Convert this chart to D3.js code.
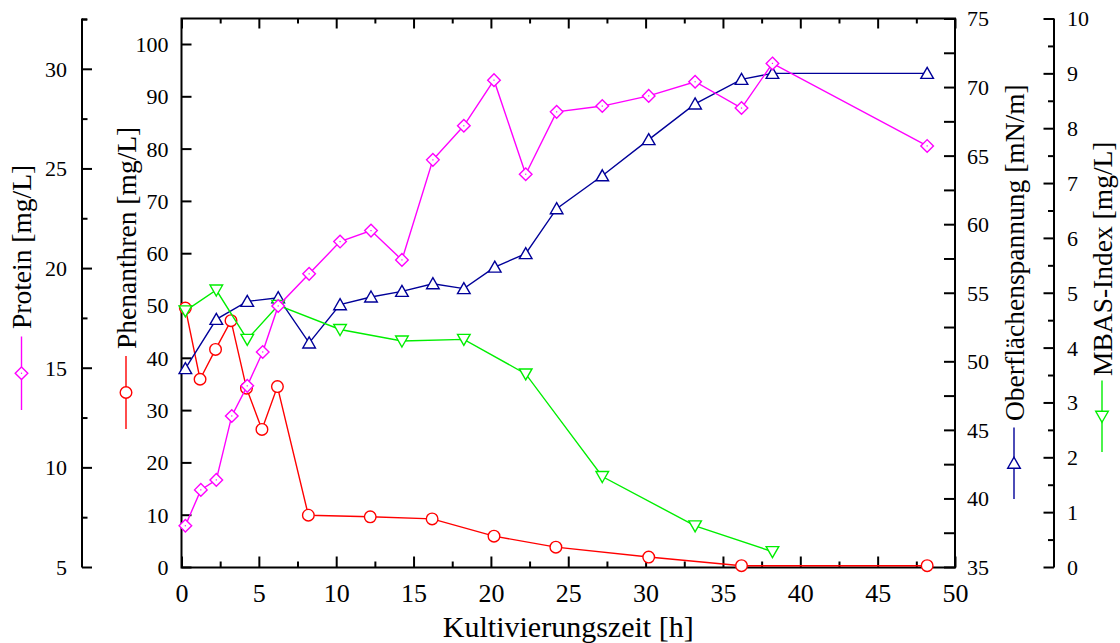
<!DOCTYPE html>
<html><head><meta charset="utf-8">
<script src="https://cdn.jsdelivr.net/npm/d3@7/dist/d3.min.js"></script>
<style>
html,body{margin:0;padding:0;background:#fff;}
svg{display:block;font-family:"Liberation Serif","Times New Roman",serif;}
</style></head>
<body>
<svg id="chart" width="1120" height="643"></svg>
<script>
// ---------- data ----------
const proteinTime   = [0.25,1.25,2.25,3.25,4.25,5.25,6.25,8.25,10.25,12.25,14.25,16.25,18.25,20.2,22.25,24.25,27.2,30.2,33.2,36.2,38.2,48.2];
const proteinValue  = [7.07,8.87,9.37,12.58,14.09,15.79,18.10,19.71,21.33,21.88,20.41,25.43,27.14,29.43,24.71,27.84,28.13,28.64,29.35,28.03,30.27,26.13];

const phenTime      = [0.25,1.2,2.2,3.2,4.2,5.2,6.2,8.2,12.2,16.2,20.2,24.2,30.2,36.2,48.2];
const phenValue     = [49.5,35.9,41.6,47.1,34.2,26.3,34.5,9.9,9.6,9.2,5.9,3.8,1.9,0.25,0.25];

const surfTime      = [0.25,2.25,4.25,6.25,8.25,10.25,12.25,14.25,16.25,18.25,20.25,22.25,24.25,27.2,30.2,33.2,36.2,38.2,48.2];
const surfValue     = [49.47,53.06,54.37,54.64,51.34,54.13,54.69,55.10,55.66,55.30,56.87,57.85,61.13,63.53,66.17,68.77,70.56,71.0,71.0];

const mbasTime      = [0.25,2.25,4.25,6.25,10.25,14.25,18.25,22.25,27.2,33.2,38.2];
const mbasValue     = [4.67,5.05,4.15,4.77,4.33,4.12,4.15,3.52,1.65,0.75,0.28];

const xTicks        = [0,5,10,15,20,25,30,35,40,45,50];
const phenTicks     = [0,10,20,30,40,50,60,70,80,90,100];
const proteinTicks  = [5,10,15,20,25,30];
const surfTicks     = [35,40,45,50,55,60,65,70,75];
const mbasTicks     = [0,1,2,3,4,5,6,7,8,9,10];

const xTitle    = "Kultivierungszeit [h]";
const phenTitle = "Phenanthren [mg/L]";
const protTitle = "Protein [mg/L]";
const surfTitle = "Oberflächenspannung [mN/m]";
const mbasTitle = "MBAS-Index [mg/L]";

// ---------- layout ----------
const L = 181.5, R = 955, T = 18.5, B = 567.5;
const protAxisX = 82, mbasAxisX = 1054;

const svg = d3.select("#chart");

const x     = d3.scaleLinear().domain([0,50]).range([L,R]);
const yPhen = d3.scaleLinear().domain([0,100]).range([567,44]);
const yProt = d3.scaleLinear().domain([5,30]).range([567,68.8]);
const ySurf = d3.scaleLinear().domain([35,75]).range([567,T]);
const yMbas = d3.scaleLinear().domain([0,10]).range([567,T]);

const C = {prot:"#ff00ff", phen:"#ff0000", surf:"#000099", mbas:"#00ee00"};

function styleAxis(g, fs){
  g.select(".domain").remove();
  g.selectAll(".tick line").attr("stroke","#000").attr("stroke-width",2);
  g.selectAll(".tick text").attr("font-size",fs).attr("fill","#000")
    .attr("font-family","Liberation Serif, Times New Roman, serif");
}
function minorVals(a,b,step){ const r=[]; for(let v=a; v<=b+1e-9; v+=step) r.push(+v.toFixed(4)); return r; }

// frame
svg.append("rect").attr("x",L).attr("y",T).attr("width",R-L).attr("height",B-T)
  .attr("fill","none").attr("stroke","#000").attr("stroke-width",2);

// bottom axis
svg.append("g").attr("transform",`translate(0,${B})`)
  .call(d3.axisBottom(x).tickValues(minorVals(2.5,47.5,5)).tickSize(-6).tickFormat(""))
  .call(g=>styleAxis(g,26));
svg.append("g").attr("transform",`translate(0,${B})`)
  .call(d3.axisBottom(x).tickValues(xTicks).tickSizeInner(-11).tickPadding(13).tickFormat(d3.format("d")))
  .call(g=>styleAxis(g,26))
  .call(g=>g.selectAll(".tick text").attr("dy",null).attr("y",34));
// top axis ticks
svg.append("g").attr("transform",`translate(0,${T})`)
  .call(d3.axisTop(x).tickValues(minorVals(2.5,47.5,5)).tickSize(-5).tickFormat(""))
  .call(g=>styleAxis(g,26));
svg.append("g").attr("transform",`translate(0,${T})`)
  .call(d3.axisTop(x).tickValues(xTicks).tickSize(-10).tickFormat(""))
  .call(g=>styleAxis(g,26));

// left (Phenanthren) axis
svg.append("g").attr("transform",`translate(${L},0)`)
  .call(d3.axisLeft(yPhen).tickValues(phenTicks).tickSizeInner(-10).tickPadding(13).tickFormat(d3.format("d")))
  .call(g=>styleAxis(g,22))
  .call(g=>g.selectAll(".tick text").attr("dy","0.34em"));

// protein axis
svg.append("line").attr("x1",protAxisX).attr("x2",protAxisX).attr("y1",T).attr("y2",B)
  .attr("stroke","#000").attr("stroke-width",2);
svg.append("line").attr("x1",protAxisX).attr("x2",protAxisX+5).attr("y1",T+1).attr("y2",T+1)
  .attr("stroke","#000").attr("stroke-width",2);
svg.append("g").attr("transform",`translate(${protAxisX},0)`)
  .call(d3.axisLeft(yProt).tickValues(minorVals(7.5,32.5,5).filter(v=>v<32.6)).tickSize(-5.5).tickFormat(""))
  .call(g=>styleAxis(g,22));
svg.append("g").attr("transform",`translate(${protAxisX},0)`)
  .call(d3.axisLeft(yProt).tickValues(proteinTicks).tickSizeInner(-10).tickPadding(15).tickFormat(d3.format("d")))
  .call(g=>styleAxis(g,22))
  .call(g=>g.selectAll(".tick text").attr("dy","0.34em"));

// right (surface tension) axis
svg.append("g").attr("transform",`translate(${R},0)`)
  .call(d3.axisRight(ySurf).tickValues(minorVals(37.5,72.5,5)).tickSize(-11).tickFormat(""))
  .call(g=>styleAxis(g,22));
svg.append("g").attr("transform",`translate(${R},0)`)
  .call(d3.axisRight(ySurf).tickValues(surfTicks).tickSizeInner(-11).tickPadding(12).tickFormat(d3.format("d")))
  .call(g=>styleAxis(g,22))
  .call(g=>g.selectAll(".tick text").attr("dy","0.34em"));

// MBAS axis
svg.append("line").attr("x1",mbasAxisX).attr("x2",mbasAxisX).attr("y1",T).attr("y2",B)
  .attr("stroke","#000").attr("stroke-width",2);
svg.append("g").attr("transform",`translate(${mbasAxisX},0)`)
  .call(d3.axisRight(yMbas).tickValues(minorVals(0.5,9.5,1)).tickSize(-6).tickFormat(""))
  .call(g=>styleAxis(g,22));
svg.append("g").attr("transform",`translate(${mbasAxisX},0)`)
  .call(d3.axisRight(yMbas).tickValues(mbasTicks).tickSizeInner(-10.5).tickPadding(13).tickFormat(d3.format("d")))
  .call(g=>styleAxis(g,22))
  .call(g=>g.selectAll(".tick text").attr("dy","0.34em"));

// ---------- markers ----------
function drawMarker(g, type, cx, cy, color){
  const sw = 1.4;
  if(type==="circle"){
    g.append("circle").attr("cx",cx).attr("cy",cy).attr("r",5.8)
      .attr("fill","#fff").attr("stroke",color).attr("stroke-width",sw);
  } else if(type==="diamond"){
    const h=6.3;
    g.append("path").attr("d",`M${cx},${cy-h}L${cx+h},${cy}L${cx},${cy+h}L${cx-h},${cy}Z`)
      .attr("fill","#fff").attr("stroke",color).attr("stroke-width",sw);
    g.append("rect").attr("x",cx-0.6).attr("y",cy-0.6).attr("width",1.2).attr("height",1.2).attr("fill",color);
  } else if(type==="up"){
    g.append("path").attr("d",`M${cx},${cy-6}L${cx+6.3},${cy+5}L${cx-6.3},${cy+5}Z`)
      .attr("fill","#fff").attr("stroke",color).attr("stroke-width",sw);
  } else if(type==="down"){
    g.append("path").attr("d",`M${cx},${cy+6}L${cx+6.3},${cy-5}L${cx-6.3},${cy-5}Z`)
      .attr("fill","#fff").attr("stroke",color).attr("stroke-width",sw);
  }
}

function drawSeries(times, vals, yScale, color, type){
  const g = svg.append("g");
  const pts = times.map((t,i)=>[x(t), yScale(vals[i])]);
  g.append("path").attr("d", d3.line()(pts)).attr("fill","none")
    .attr("stroke",color).attr("stroke-width",1.4);
  pts.forEach(p=>drawMarker(g,type,p[0],p[1],color));
}

drawSeries(phenTime, phenValue, yPhen, C.phen, "circle");
drawSeries(surfTime, surfValue, ySurf, C.surf, "up");
drawSeries(mbasTime, mbasValue, yMbas, C.mbas, "down");
drawSeries(proteinTime, proteinValue, yProt, C.prot, "diamond");

// ---------- titles with key samples ----------
const titleFS = 27.5;
function vTitle(text, cx, textBottom, lineTop, lineBottom, color, type){
  svg.append("text").attr("transform",`translate(${cx},${textBottom}) rotate(-90)`)
    .attr("dy","0.35em").attr("text-anchor","start").attr("font-size",titleFS).attr("fill","#000")
    .text(text);
  svg.append("line").attr("x1",cx).attr("x2",cx).attr("y1",lineTop).attr("y2",lineBottom)
    .attr("stroke",color).attr("stroke-width",1.4);
  drawMarker(svg, type, cx, (lineTop+lineBottom)/2, color);
}
vTitle(protTitle, 21.5, 329, 336.5, 410, C.prot, "diamond");
vTitle(phenTitle, 126, 349, 356, 429, C.phen, "circle");
vTitle(surfTitle, 1014, 421, 427.5, 499, C.surf, "up");
vTitle(mbasTitle, 1102, 376, 380.5, 452, C.mbas, "down");

svg.append("text").attr("x",(L+R)/2).attr("y",637).attr("text-anchor","middle")
  .attr("font-size",30).attr("fill","#000").text(xTitle);
</script>
</body></html>
